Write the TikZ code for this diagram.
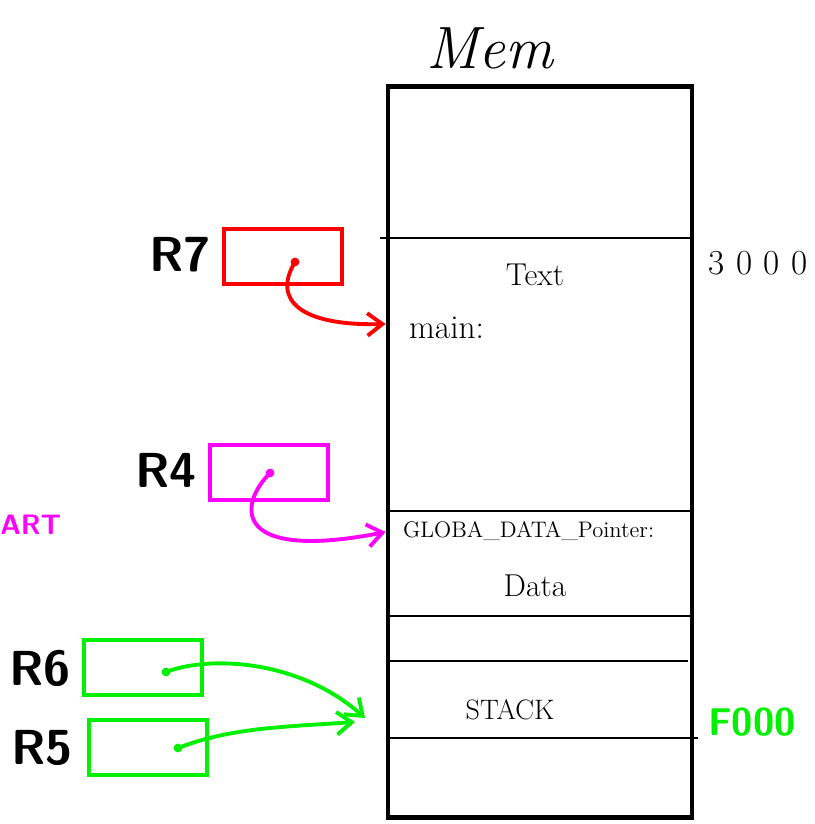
\documentclass[tikz,border=0pt]{standalone}
\usepackage{fontspec}
\usetikzlibrary{arrows.meta}
\definecolor{regGreen}{RGB}{0,240,0}
\definecolor{regMagenta}{RGB}{255,0,255}
\definecolor{regRed}{RGB}{255,0,0}

\begin{document}
\begin{tikzpicture}[
  x=0.02cm, y=-0.02cm,
  reg/.style={rectangle, draw, line width=2.2pt, minimum width=2.36cm, minimum height=1.1cm, inner sep=0pt},
  regname/.style={font=\fontsize{28}{30}\selectfont\bfseries\sffamily},
  ptr/.style={line width=2.2pt, -{Straight Barb[length=3mm, width=4.5mm]}, line cap=round},
  memblock/.style={rectangle, draw, line width=2.8pt, minimum width=6.08cm, minimum height=14.64cm, inner sep=0pt},
  memline/.style={line width=1.1pt},
  memtext/.style={font=\fontsize{18}{20}\selectfont},
]
\useasboundingbox (0,0) rectangle (814,824);

% memory column and its sections
\node[font=\fontsize{34}{36}\selectfont\itshape] (title) at (490,48) {Mem};
\node[memblock] (mem) at (540,452) {};
\draw[memline] (380,238) -- (mem.east |- 0,238);
\draw[memline] (mem.west |- 0,511) -- (mem.east |- 0,511);
\draw[memline] (mem.west |- 0,616) -- (mem.east |- 0,616);
\draw[memline] (mem.west |- 0,661) -- (688,661);
\draw[memline] (mem.west |- 0,738) -- (698,738);

\node[font=\fontsize{20}{22}\selectfont] (addr1) at (758,263) {3\,\,0\,\,0\,\,0};
\node[font=\fontsize{22}{24}\selectfont\bfseries\sffamily, text=regGreen] (addr2) at (752,722) {F000};

\node[memtext] (text) at (535,275) {Text};
\node[font=\fontsize{19}{21}\selectfont, anchor=west] (main) at (403,328) {main:};
\node[font=\fontsize{12.8}{14}\selectfont, anchor=west] (gdp) at (397,531) {GLOBA\_DATA\_Pointer:};
\node[memtext] (data) at (535,586) {Data};
\node[font=\fontsize{16}{18}\selectfont] (stack) at (510,710) {STACK};

% registers
\node[reg, draw=regRed] (r7) at (283,256.5) {};
\node[regname] (r7name) at (180,255) {R7};
\node[reg, draw=regMagenta] (r4) at (269,472.5) {};
\node[regname] (r4name) at (166,470) {R4};
\node[reg, draw=regGreen] (r6) at (143,667.5) {};
\node[regname] (r6name) at (40,668) {R6};
\node[reg, draw=regGreen] (r5) at (148,747.5) {};
\node[regname] (r5name) at (42,748) {R5};

\node[font=\fontsize{16}{18}\selectfont\bfseries\sffamily, text=regMagenta, anchor=west, inner sep=0pt] (start) at (0,525) {ART};

% pointers into memory
\coordinate (r7ptr) at (295,262);
\coordinate (r4ptr) at (270,473);
\coordinate (r6ptr) at (166,672);
\coordinate (r5ptr) at (178,748);
\coordinate (stacktop) at (365,718);
\coordinate (stackbot) at (355,722);

\fill[regRed] (r7ptr) circle[radius=2.5pt];
\draw[ptr, regRed] (r7ptr) .. controls (272,300) and (300,326) .. (mem.west |- 0,324);
\fill[regMagenta] (r4ptr) circle[radius=2.5pt];
\draw[ptr, regMagenta] (r4ptr) .. controls (238,505) and (232,562) .. (mem.west |- 0,532);
\fill[regGreen] (r6ptr) circle[radius=2.5pt];
\draw[ptr, regGreen] (r6ptr) .. controls (210,655) and (300,660) .. (stacktop);
\fill[regGreen] (r5ptr) circle[radius=2.5pt];
\draw[ptr, regGreen] (r5ptr) .. controls (230,728) and (280,727) .. (stackbot);

\end{tikzpicture}
\end{document}
